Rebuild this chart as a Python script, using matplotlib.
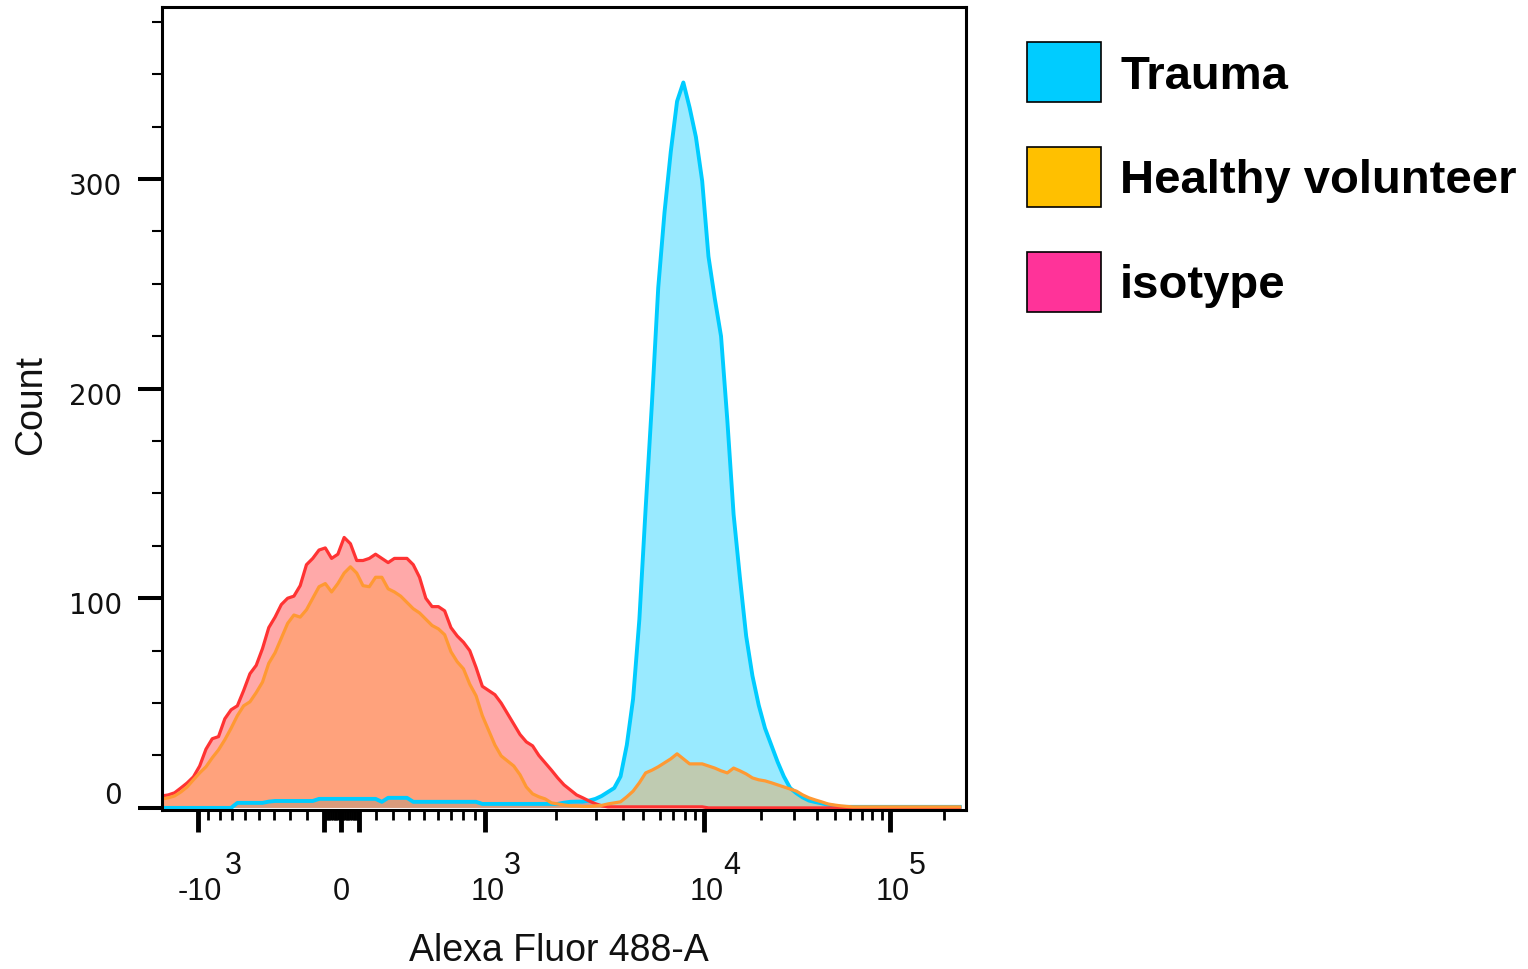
import numpy as np
import matplotlib
matplotlib.use('Agg')
import matplotlib.pyplot as plt
from matplotlib.patches import Patch
from matplotlib.ticker import FixedLocator, MultipleLocator, NullFormatter
from matplotlib.transforms import ScaledTranslation, blended_transform_factory

# logicle (biexponential) display parameters
T_TOP = 262144
M_DEC = 4.48
W_LIN = 1.0
N_CH = 1024

# histogram channels (display space) and counts per channel
channel = np.arange(0, N_CH, 8)

trauma = [
    0, 0, 0, 0, 0, 0, 0, 0, 0, 0,
    0, 0, 2.4, 2.4, 2.4, 2.4, 2.4, 3, 3.3, 3.3,
    3.3, 3.3, 3.3, 3.3, 3.3, 4.3, 4.3, 4.3, 4.3, 4.3,
    4.3, 4.3, 4.3, 4.3, 4.3, 2.9, 4.8, 4.8, 4.8, 4.8,
    2.9, 2.9, 2.9, 2.9, 2.9, 2.9, 2.9, 2.9, 2.9, 2.9,
    2.9, 1.9, 1.9, 1.9, 1.9, 1.9, 1.9, 1.9, 1.9, 1.9,
    1.9, 1.9, 1.9, 1.9, 2.5, 2.9, 3, 3, 3.5, 4.3,
    5.7, 7.6, 9.5, 15, 30, 52, 90, 143, 193, 248,
    284, 313, 337, 346, 334, 320, 299, 263, 243, 225,
    185, 140, 110, 82, 63, 49, 38, 30, 22, 15,
    9.5, 7, 5, 3.5, 2.8, 2.2, 1.5, 1, 0.5, 0.5,
    0.5, 0.5, 0.5, 0.5, 0.5, 0.5, 0.5, 0.5, 0.5, 0.5,
    0.5, 0.5, 0.5, 0.5, 0.5, 0.5, 0.5, 0.5,
]

healthy = [
    4.3, 4.8, 5.7, 7.6, 10, 13.4, 16.7, 19.6, 23.9, 27.7,
    32.5, 38, 44, 48.7, 50.6, 55, 60, 69, 74, 81,
    88, 92, 91, 94.5, 100, 105.5, 107, 103, 107, 112,
    115, 112, 106, 105.5, 110, 110, 104.5, 103, 101, 98,
    95, 93, 90, 87, 85.4, 82.6, 74.5, 69.7, 66.3, 59,
    53.5, 44, 37, 30, 24.8, 22.4, 20, 15.8, 10, 6.7,
    5.3, 4.3, 2.4, 1.9, 1.4, 1, 1, 0.7, 0.7, 1,
    1.2, 1.9, 2.4, 2.9, 5.3, 8, 12, 16.7, 18, 19.6,
    21.5, 23.4, 25.8, 23.4, 21, 21, 21, 20, 19, 17.7,
    16.7, 19, 17.7, 16.2, 14.3, 13.4, 12.9, 12, 11, 10,
    9, 8, 6.2, 4.8, 3.8, 2.9, 1.9, 1.4, 1, 0.7,
    0.5, 0.5, 0.5, 0.5, 0.5, 0.5, 0.5, 0.5, 0.5, 0.5,
    0.5, 0.5, 0.5, 0.5, 0.5, 0.5, 0.5, 0.5,
]

isotype = [
    5.7, 6.2, 7.2, 9.5, 11.9, 14.8, 20, 28, 33, 34,
    42.5, 46.8, 48.7, 56, 64, 68, 76, 86, 91, 97,
    100, 101, 106, 116, 119, 123, 124, 119, 121, 129,
    126, 118, 118, 119, 121, 119, 117, 119, 119, 119,
    116, 110, 100, 96, 96, 94, 86, 82, 79, 75,
    67, 58, 56, 54, 50, 45, 40, 35, 31.5, 29.6,
    25, 21.5, 18, 14.3, 11, 8.6, 6.2, 4.8, 3.3, 2,
    1, 0.5, 0.5, 0.5, 0.5, 0.5, 0.5, 0.5, 0.5, 0.5,
    0.5, 0.5, 0.5, 0.5, 0.5, 0.5, 0.5, 0, 0, 0,
    0, 0, 0, 0, 0, 0, 0, 0, 0, 0,
    0, 0, 0, 0, 0, 0, 0, 0, 0, 0,
    0, 0, 0, 0, 0, 0, 0, 0, 0, 0,
    0, 0, 0, 0, 0, 0, 0, 0,
]

series = [
    ('Trauma', trauma, '#00CCFF', '#00CCFF', 0.40, '#00CCFF', 2.8),
    ('isotype', isotype, '#FF3333', '#FF3333', 0.42, '#FF3399', 2.3),
    ('Healthy volunteer', healthy, '#FF9933', '#FF9933', 0.38, '#FFC000', 2.3),
]
legend_order = ['Trauma', 'Healthy volunteer', 'isotype']

x_labels = [(-1e3, '-10', '3'), (0, '0', None), (1e3, '10', '3'),
            (1e4, '10', '4'), (1e5, '10', '5')]
y_major = [0, 100, 200, 300]


def _logicle_p(w):
    lo, hi = 1.0, 100.0
    for _ in range(200):
        mid = 0.5 * (lo + hi)
        if 2 * mid * np.log10(mid) / (mid + 1) > w:
            hi = mid
        else:
            lo = mid
    return 0.5 * (lo + hi)


P_LOG = _logicle_p(W_LIN)
A_LOG = T_TOP * 10 ** (-(M_DEC - W_LIN))


def logicle_inv(y):
    """display units -> data value"""
    y = np.asarray(y, dtype=float)
    z = y - W_LIN
    s = np.sign(z)
    az = np.abs(z)
    v = 10 ** az - P_LOG ** 2 * 10 ** (-az / P_LOG) + P_LOG ** 2 - 1
    return s * A_LOG * v


_grid = np.linspace(-1.5, M_DEC + 1.0, 40001)
_grid_data = logicle_inv(_grid)


def logicle_fwd(x):
    return np.interp(np.asarray(x, dtype=float), _grid_data, _grid)


x_vals = logicle_inv(channel / N_CH * M_DEC)

fig = plt.figure(figsize=(15.28, 9.70), dpi=100)
ax = fig.add_axes([162 / 1528, 1 - 811 / 970, 804 / 1528, 803 / 970])

for name, counts, lc, fc, alpha, _, lw in series:
    counts = np.asarray(counts, dtype=float)
    ax.fill_between(x_vals, counts, 0, facecolor=fc, alpha=alpha, lw=0)
    ax.plot(x_vals, counts, color=lc, lw=lw, solid_joinstyle='round')

ax.set_xscale('function', functions=(logicle_fwd, logicle_inv))
ax.set_xlim(logicle_inv(0), logicle_inv(M_DEC))
ax.set_ylim(-1, 382)

# x ticks
x_major = [-1e3, -1e2, 0, 1e2, 1e3, 1e4, 1e5]
x_minor = []
for k in range(1, 10):
    x_minor += [k * 10, -k * 10]
for k in range(2, 10):
    x_minor += [k * 100, -k * 100, k * 1e3, -k * 1e3, k * 1e4, k * 1e5]
ax.xaxis.set_major_locator(FixedLocator(x_major))
ax.xaxis.set_minor_locator(FixedLocator(x_minor))
ax.xaxis.set_major_formatter(NullFormatter())
ax.xaxis.set_minor_formatter(NullFormatter())
ax.tick_params(axis='x', which='major', direction='out', length=16, width=3.5)
ax.tick_params(axis='x', which='minor', direction='out', length=7.5, width=2)

# y ticks
ax.yaxis.set_major_locator(FixedLocator(y_major))
ax.yaxis.set_minor_locator(MultipleLocator(25))
ax.yaxis.set_major_formatter(NullFormatter())
ax.tick_params(axis='y', which='major', direction='out', length=17, width=2.9)
ax.tick_params(axis='y', which='minor', direction='out', length=7, width=1.5)

for spine in ax.spines.values():
    spine.set_linewidth(2.2)
    spine.set_color('black')

xtick_font = dict(family='Liberation Sans', size=22, color='#111111')
ytick_font = dict(family='DejaVu Sans', size=20, color='#111111')

# x tick labels: base with a raised exponent
tr_x = blended_transform_factory(ax.transData, fig.transFigure)
for val, base, expo in x_labels:
    bdx = 2 if base.startswith('-') else (0 if expo is None else 3)
    ax.text(val, 1 - 892 / 970, base, ha='center', va='center', clip_on=False,
            transform=tr_x + ScaledTranslation(bdx / 100, 0, fig.dpi_scale_trans),
            **xtick_font)
    if expo:
        edx = 27 if base.startswith('-') else 19
        ax.text(val, 1 - 866 / 970, expo, ha='left', va='center', clip_on=False,
                transform=tr_x + ScaledTranslation(edx / 100, 0, fig.dpi_scale_trans),
                **xtick_font)

# y tick labels
tr_y = blended_transform_factory(ax.transAxes, ax.transData)
for val in y_major:
    dy = 13 if val == 0 else -7
    ax.text(0, val, str(val), ha='right', va='center', clip_on=False,
            transform=tr_y + ScaledTranslation(-40 / 100, dy / 100, fig.dpi_scale_trans),
            **ytick_font)

fig.text(31 / 1528, 1 - 405 / 970, 'Count', rotation=90, ha='center', va='center',
         family='Liberation Sans', size=27, color='#111111')
fig.text(559 / 1528, 1 - 951 / 970, 'Alexa Fluor 488-A', ha='center', va='center',
         family='Liberation Sans', size=27, color='#111111')

legend_colors = {s[0]: s[5] for s in series}
handles = [Patch(facecolor=legend_colors[n], edgecolor='black', linewidth=1.2)
           for n in legend_order]
ax.legend(handles, legend_order, loc='upper left',
          bbox_to_anchor=(1027 / 1528, 1 - 43 / 970), bbox_transform=fig.transFigure,
          frameon=False, prop=dict(family='Liberation Sans', weight='bold', size=34),
          handlelength=1.57, handleheight=1.58, handletextpad=0.4,
          labelspacing=0.95, borderpad=0, borderaxespad=0)

fig.savefig('out.png', dpi=100, facecolor='white')
